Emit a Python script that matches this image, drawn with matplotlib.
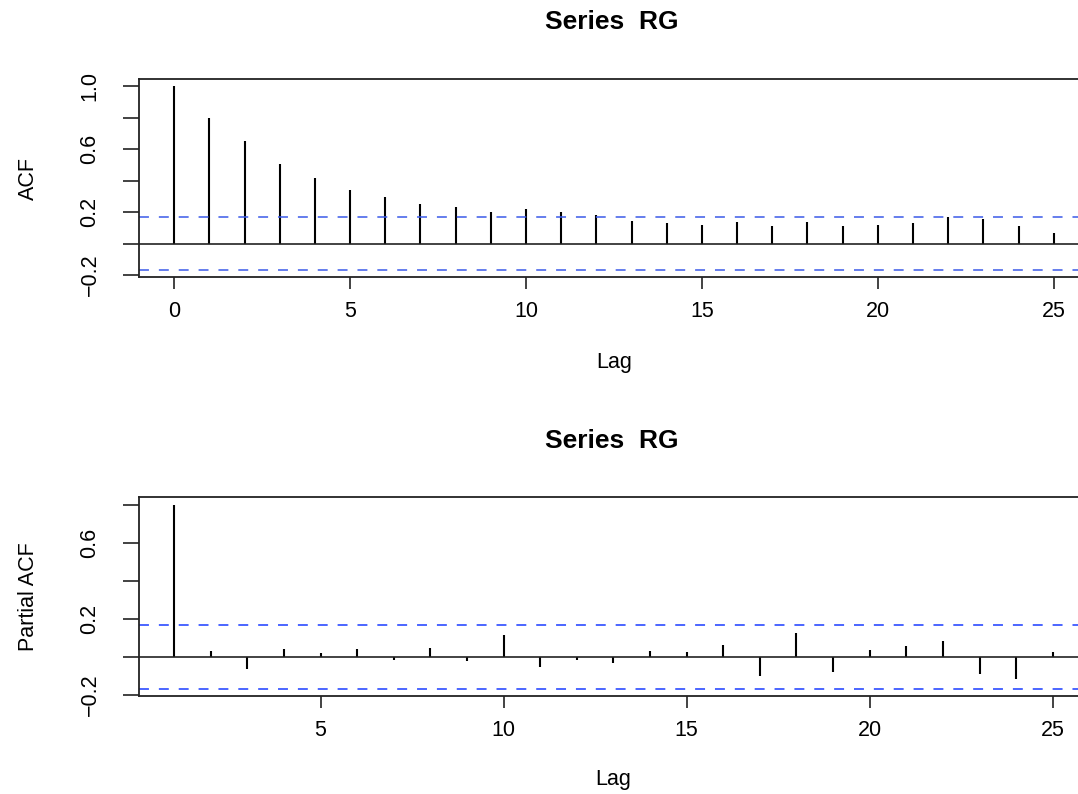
import numpy as np
import matplotlib
matplotlib.use("Agg")
import matplotlib.pyplot as plt

plt.rcParams['font.family'] = ['Liberation Sans', 'DejaVu Sans']

# ---- data ----
acf_lags = list(range(0, 26))
acf_vals = [1.000, 0.800, 0.652, 0.508, 0.415, 0.341, 0.298, 0.252, 0.233, 0.201,
            0.218, 0.199, 0.180, 0.144, 0.129, 0.121, 0.140, 0.110, 0.138, 0.114,
            0.119, 0.131, 0.171, 0.155, 0.110, 0.070]
pacf_lags = list(range(1, 26))
pacf_vals = [0.800, 0.033, -0.065, 0.044, 0.019, 0.044, -0.017, 0.047, -0.019, 0.117,
             -0.054, -0.016, -0.033, 0.033, 0.024, 0.061, -0.098, 0.127, -0.079, 0.037,
             0.058, 0.086, -0.087, -0.115, 0.028]
ci = 0.166
title = "Series  RG"
acf_yticks = [-0.2, 0.0, 0.2, 0.4, 0.6, 0.8, 1.0]
acf_ylabels = ["\u22120.2", "", "0.2", "", "0.6", "", "1.0"]
pacf_yticks = [-0.2, 0.0, 0.2, 0.4, 0.6, 0.8]
pacf_ylabels = ["\u22120.2", "", "0.2", "", "0.6", ""]
acf_xticks = [0, 5, 10, 15, 20, 25]
pacf_xticks = [5, 10, 15, 20, 25]

W, H = 1078, 794
fig = plt.figure(figsize=(W / 100, H / 100), dpi=100)

FS = 15.5
TFS = 19

def px_axes(left, top, right, bottom):
    return fig.add_axes([left / W, 1 - bottom / H, (right - left) / W, (bottom - top) / H])

def style(ax):
    for s in ax.spines.values():
        s.set_color('#222222')
        s.set_linewidth(1.3)
    ax.tick_params(axis='x', direction='out', length=8.6, width=1.2, color='#222222',
                   labelsize=FS, pad=9)
    ax.tick_params(axis='y', direction='out', length=11.3, width=1.2, color='#222222',
                   labelsize=FS, pad=24)
    for lab in ax.get_yticklabels():
        lab.set_rotation(90)
        lab.set_va('center')
        lab.set_ha('center')

# ---- ACF ----
ax1 = px_axes(139, 79, 1088.9, 277)
ax1.vlines(acf_lags, 0, acf_vals, color='black', lw=1.5)
ax1.axhline(0, color='#222222', lw=1.2)
ax1.axhline(ci, color='#3a5ae8', lw=1.1, ls=(0, (6.5, 6.5)))
ax1.axhline(-ci, color='#3a5ae8', lw=1.1, ls=(0, (6.5, 6.5)))
lo, hi = -ci, max(acf_vals)
r = hi - lo
ax1.set_ylim(lo - 0.04 * r, hi + 0.04 * r)
ax1.set_xlim(0 - 0.04 * 25, 25 + 0.04 * 25)
ax1.set_xticks(acf_xticks)
ax1.set_yticks(acf_yticks)
ax1.set_yticklabels(acf_ylabels)
style(ax1)
ax1.set_xlabel("Lag", fontsize=FS, labelpad=21)
ax1.set_ylabel("ACF", fontsize=FS, labelpad=29)
fig.text(612 / W, 1 - 22 / H, title, ha='center', va='center', fontsize=TFS, fontweight='bold')

# ---- PACF ----
ax2 = px_axes(139, 497.3, 1087.9, 696)
ax2.vlines(pacf_lags, 0, pacf_vals, color='black', lw=1.5)
ax2.axhline(0, color='#222222', lw=1.2)
ax2.axhline(ci, color='#1a3cff', lw=1.1, ls=(0, (6.5, 6.5)))
ax2.axhline(-ci, color='#1a3cff', lw=1.1, ls=(0, (6.5, 6.5)))
lo, hi = -ci, max(pacf_vals)
r = hi - lo
ax2.set_ylim(lo - 0.04 * r, hi + 0.04 * r)
ax2.set_xlim(1 - 0.04 * 24, 25 + 0.04 * 24)
ax2.set_xticks(pacf_xticks)
ax2.set_yticks(pacf_yticks)
ax2.set_yticklabels(pacf_ylabels)
style(ax2)
ax2.set_xlabel("Lag", fontsize=FS, labelpad=20)
ax2.set_ylabel("Partial ACF", fontsize=FS, labelpad=29)
fig.text(612 / W, 1 - 441 / H, title, ha='center', va='center', fontsize=TFS, fontweight='bold')

fig.savefig("out.png", dpi=100)
